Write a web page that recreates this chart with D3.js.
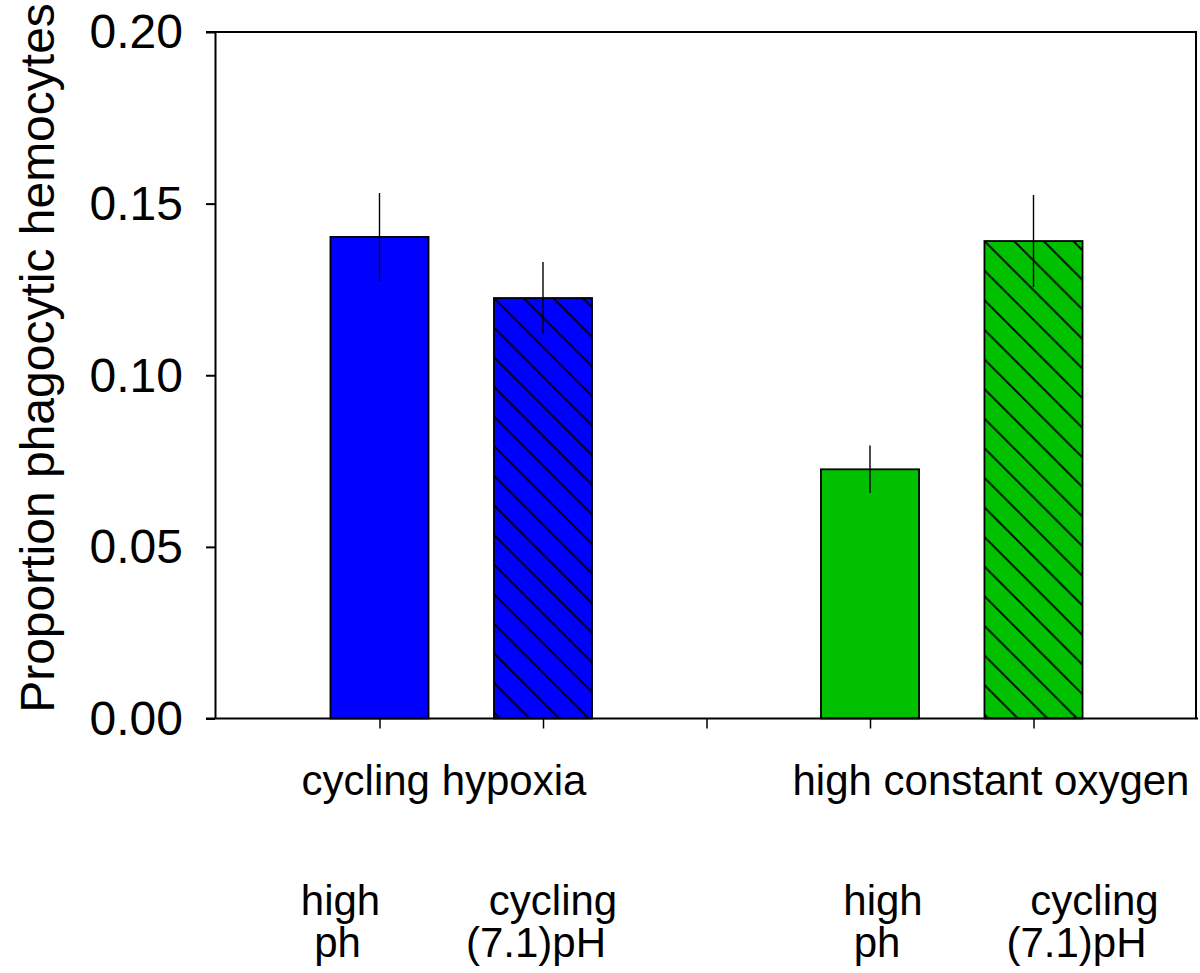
<!DOCTYPE html>
<html>
<head>
<meta charset="utf-8">
<script src="https://cdn.jsdelivr.net/npm/d3@7"></script>
<style>
  html, body { margin: 0; padding: 0; background: #ffffff; }
  svg { display: block; font-family: "Liberation Sans", Arial, sans-serif; }
</style>
</head>
<body>
<svg id="chart" width="1200" height="973"></svg>
<script>
// Mean proportion of phagocytic hemocytes (± SE) by oxygen and pH treatment
const groups = ["cycling hypoxia", "high constant oxygen"];
const treatmentLines = [["high", "ph"], ["cycling", "(7.1)pH"]];
const slots = [1, 2, 4, 5];            // bar positions along the x axis
const barGroup = [0, 0, 1, 1];
const barTreatment = [0, 1, 0, 1];
const means = [0.1403, 0.1225, 0.0726, 0.1391];
const errors = [0.0128, 0.0105, 0.0069, 0.0134];
const yTicks = [0.00, 0.05, 0.10, 0.15, 0.20];
const xTicks = [1, 2, 3, 4, 5];
const groupColors = ["#0000ff", "#00c000"];

const svg = d3.select("#chart");
const plotLeft = 215, plotRight = 1196, plotTop = 32, plotBottom = 718.5;

const x = d3.scaleLinear().domain([0, 6]).range([216, 1197]);
const y = d3.scaleLinear().domain([0, 0.20]).range([plotBottom, plotTop]);
const barW = x(0.6) - x(0);
const hatch = 29.6;

// one hatch pattern per hatched bar, anchored at the bar's top-left corner
const defs = svg.append("defs");
slots.forEach((s, i) => {
  if (barTreatment[i] !== 1) return;
  const p = defs.append("pattern")
    .attr("id", "hatch" + i)
    .attr("patternUnits", "userSpaceOnUse")
    .attr("x", x(s) - barW / 2)
    .attr("y", y(means[i]))
    .attr("width", hatch).attr("height", hatch);
  p.append("rect").attr("width", hatch).attr("height", hatch)
    .attr("fill", groupColors[barGroup[i]]);
  p.append("path")
    .attr("d", `M-2,-2L${hatch + 2},${hatch + 2}M${hatch - 2},-2L${hatch + 2},2M-2,${hatch - 2}L2,${hatch + 2}`)
    .attr("stroke", "#000").attr("stroke-width", 1.8);
});

// bars
svg.append("g").selectAll("rect").data(slots).join("rect")
  .attr("x", (s) => x(s) - barW / 2)
  .attr("y", (s, i) => y(means[i]))
  .attr("width", barW)
  .attr("height", (s, i) => y(0) - y(means[i]))
  .attr("fill", (s, i) => barTreatment[i] === 1 ? `url(#hatch${i})` : groupColors[barGroup[i]])
  .attr("stroke", "#000")
  .attr("stroke-width", 1.8);

// error bars
svg.append("g").selectAll("line").data(slots).join("line")
  .attr("x1", (s) => x(s)).attr("x2", (s) => x(s))
  .attr("y1", (s, i) => y(means[i] + errors[i]))
  .attr("y2", (s, i) => y(means[i] - errors[i]))
  .attr("stroke", "#000").attr("stroke-width", 1.4);

// y axis with frame
const yAxis = d3.axisLeft(y).tickValues(yTicks).tickFormat(d3.format(".2f"))
  .tickSize(9).tickSizeOuter(0).tickPadding(23);
const gy = svg.append("g").attr("transform", `translate(${plotLeft},0)`).call(yAxis);
gy.select(".domain").attr("stroke-width", 2);
gy.selectAll(".tick line").attr("stroke-width", 2);
gy.selectAll(".tick text").attr("font-size", 48).attr("fill", "#000")
  .attr("font-family", "Liberation Sans, Arial, sans-serif").attr("dy", "0.33em");

// x axis
const xAxis = d3.axisBottom(x).tickValues(xTicks).tickFormat("").tickSize(10).tickSizeOuter(0);
const gx = svg.append("g").attr("transform", `translate(0,${plotBottom})`).call(xAxis);
gx.select(".domain").attr("d", `M${plotLeft - 9},0H${plotRight + 2}`).attr("stroke-width", 2);
gx.selectAll(".tick line").attr("stroke-width", 1.5);

// top and right frame lines
svg.append("path")
  .attr("d", `M${plotLeft - 9},${plotTop}H${plotRight}V${plotBottom}`)
  .attr("fill", "none").attr("stroke", "#000").attr("stroke-width", 2);

// y axis title
svg.append("text")
  .attr("transform", `translate(54,358) rotate(-90)`)
  .attr("text-anchor", "middle")
  .attr("font-size", 48)
  .text("Proportion phagocytic hemocytes");

// group labels
const groupCenters = [444, 991];
svg.append("g").selectAll("text").data(groups).join("text")
  .attr("x", (d, i) => groupCenters[i])
  .attr("y", 795)
  .attr("text-anchor", "middle")
  .attr("font-size", 42)
  .text((d) => d);

// treatment labels under each bar (two lines each)
const lineShift = [[[-39, -42], [10, -7]], [[13, 7], [61, 43]]];
slots.forEach((s, i) => {
  const lines = treatmentLines[barTreatment[i]];
  const shift = lineShift[barGroup[i]][barTreatment[i]];
  lines.forEach((t, k) => {
    svg.append("text")
      .attr("x", x(s) + shift[k])
      .attr("y", 915 + k * 42)
      .attr("text-anchor", "middle")
      .attr("font-size", 42)
      .text(t);
  });
});
</script>
</body>
</html>
